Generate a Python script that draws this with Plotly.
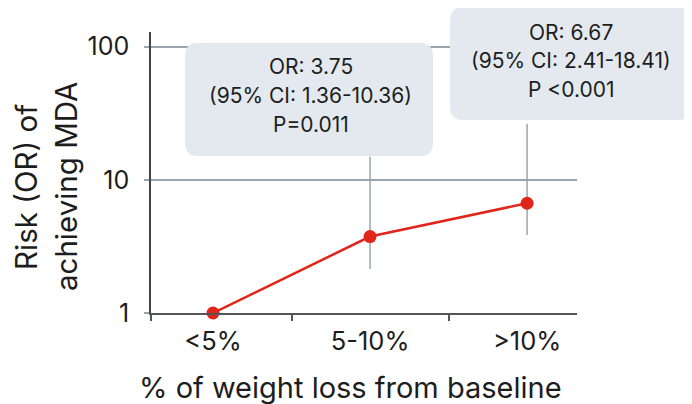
import plotly.graph_objects as go

# ---------------- data ----------------
categories = ["<5%", "5-10%", ">10%"]
odds_ratio = [1, 3.75, 6.67]
ci_low = [None, 1.36, 2.41]
ci_high = [None, 10.36, 18.41]
p_labels = [None, "P=0.011", "P <0.001"]
# error-bar extents as drawn in the reference picture
bar_low = [None, 2.14, 3.86]
bar_high = [None, 14.9, 26.4]
y_tick_values = [1, 10, 100]
y_tick_labels = ["1", "10", "100"]
x_title = "% of weight loss from baseline"
y_title_lines = ["Risk (OR) of", "achieving MDA"]

# ---------------- style ----------------
FONT = "Inter, 'DejaVu Sans', sans-serif"
TXT = "#1d1d1d"
RED = "#e1251b"
GRID = "#9ba5ae"
BOX = "#e3e9ef"
OFF = 8  # default page body margin
PAGE_W, PAGE_H = 692, 404
PL, PR, PT, PB = 151, 577, 32, 313  # plot area in page pixels
L, T = PL - OFF, PT - OFF
R = PAGE_W - PR
B = PAGE_H - PB
W = PAGE_W - OFF
H = PAGE_H - OFF
PW, PH = PR - PL, PB - PT


def px_x(p):
    return (p - PL) / PW


def px_y(p):
    return (PB - p) / PH


idx = list(range(len(categories)))
eb_x = [i for i in idx if bar_low[i] is not None]
eb_y = [odds_ratio[i] for i in eb_x]

fig = go.Figure()
fig.add_trace(go.Scatter(
    x=eb_x, y=eb_y, mode="markers",
    marker=dict(size=1, opacity=0),
    error_y=dict(type="data", symmetric=False,
                 array=[bar_high[i] - odds_ratio[i] for i in eb_x],
                 arrayminus=[odds_ratio[i] - bar_low[i] for i in eb_x],
                 color=GRID, thickness=1.5, width=0),
    hoverinfo="skip", showlegend=False, cliponaxis=False))
fig.add_trace(go.Scatter(
    x=idx, y=odds_ratio, mode="lines+markers",
    line=dict(color=RED, width=2.5),
    marker=dict(size=13, color=RED),
    showlegend=False, cliponaxis=False))

# rounded callout boxes (pixel-sized paths)
boxes = [  # (center px x, center px y, width, height)
    (309, 99.5, 248, 113),
    (570.5, 63.5, 241, 113),
]
shapes = []
for cx, cy, bw, bh in boxes:
    w, h, r = bw / 2, bh / 2, 13
    path = (f"M {-w + r},{-h} L {w - r},{-h} Q {w},{-h} {w},{-h + r} "
            f"L {w},{h - r} Q {w},{h} {w - r},{h} L {-w + r},{h} "
            f"Q {-w},{h} {-w},{h - r} L {-w},{-h + r} Q {-w},{-h} {-w + r},{-h} Z")
    shapes.append(dict(type="path", xref="paper", yref="paper",
                       xsizemode="pixel", ysizemode="pixel",
                       xanchor=px_x(cx), yanchor=px_y(cy), path=path,
                       fillcolor=BOX, line=dict(width=0), layer="above"))

annotations = []
text_pos = {1: (310.5, [66.8, 95.8, 124.5]), 2: (571, [32.2, 60.8, 89.2])}
for i in eb_x:
    cx, ys = text_pos[i]
    lines = [f"OR: {odds_ratio[i]:.2f}",
             f"(95% CI: {ci_low[i]:.2f}-{ci_high[i]:.2f})",
             p_labels[i]]
    for line, yy in zip(lines, ys):
        annotations.append(dict(text=line, xref="paper", yref="paper",
                                x=px_x(cx), y=px_y(yy), showarrow=False,
                                xanchor="center", yanchor="middle",
                                font=dict(family=FONT, size=21, color=TXT)))

annotations.append(dict(text=x_title, xref="paper", yref="paper",
                        x=px_x(350), y=px_y(387), showarrow=False,
                        xanchor="center", yanchor="middle",
                        font=dict(family=FONT, size=29, color=TXT)))
for line, xx in zip(y_title_lines, [26, 66]):
    annotations.append(dict(text=line, xref="paper", yref="paper",
                            x=px_x(xx), y=px_y(187), showarrow=False,
                            textangle=-90, xanchor="center", yanchor="middle",
                            font=dict(family=FONT, size=29.5, color=TXT)))

fig.update_layout(
    width=W, height=H,
    margin=dict(l=L, r=R, t=T, b=B, pad=0),
    paper_bgcolor="white", plot_bgcolor="white",
    font=dict(family=FONT, color=TXT),
    shapes=shapes, annotations=annotations,
    xaxis=dict(range=[-0.395, 2.318], tickmode="array", tickvals=idx,
               ticktext=categories, ticks="", showgrid=False, zeroline=False,
               showline=True, linecolor="#555", linewidth=2,
               tickfont=dict(family=FONT, size=25.5, color=TXT),
               ticklabelstandoff=4,
               minor=dict(tickmode="array", tickvals=[-0.395, 0.5, 1.5],
                          ticks="outside", ticklen=6, tickwidth=1.5,
                          tickcolor="#555", showgrid=False)),
    yaxis=dict(type="log", range=[0, 2.11], tickmode="array",
               tickvals=y_tick_values, ticktext=y_tick_labels,
               ticks="outside", ticklen=5, tickwidth=1.5, tickcolor=GRID,
               showgrid=True, gridcolor=GRID, gridwidth=1.5, zeroline=False,
               showline=True, linecolor="#444", linewidth=1.5,
               tickfont=dict(family=FONT, size=25, color=TXT),
               ticklabelstandoff=10),
)

fig.write_html("out.html")
